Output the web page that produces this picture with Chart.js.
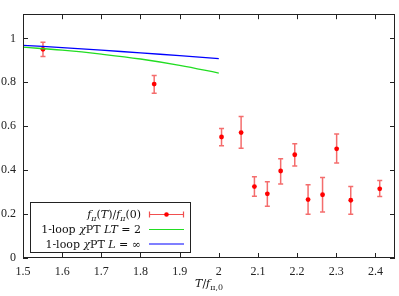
<!DOCTYPE html>
<html><head><meta charset="utf-8">
<script src="https://cdn.jsdelivr.net/npm/chart.js@4/dist/chart.umd.min.js"></script>
<style>html,body{margin:0;padding:0;background:#fff}</style>
</head><body>
<canvas id="c" width="399" height="296"></canvas>
<script>
// Data
const xVals   = [1.551,1.835,2.007,2.057,2.091,2.124,2.158,2.194,2.228,2.265,2.301,2.337,2.411];
const yVals   = [0.950,0.792,0.551,0.571,0.325,0.292,0.396,0.470,0.266,0.288,0.497,0.263,0.315];
const yErrHi  = [0.982,0.831,0.590,0.644,0.370,0.347,0.452,0.520,0.333,0.367,0.565,0.325,0.353];
const yErrLo  = [0.917,0.750,0.511,0.500,0.281,0.236,0.337,0.419,0.199,0.209,0.432,0.199,0.280];
const thX     = [1.5,1.6,1.7,1.8,1.9,2.0];
const greenLT2 = [0.960,0.946,0.928,0.906,0.877,0.842];
const blueInf  = [0.968,0.958,0.946,0.934,0.921,0.908];
const xTicks = [1.5,1.6,1.7,1.8,1.9,2.0,2.1,2.2,2.3,2.4];
const yTicks = [0,0.2,0.4,0.6,0.8,1.0];

const SERIF = '"Liberation Serif","DejaVu Serif",serif';
const LSERIF = '"DejaVu Serif","Liberation Serif",serif';
const FS = 12;
const LFS = 11;

function drawRuns(ctx, runs, x, y, align){
  let w = 0;
  const meas = runs.map(r=>{
    const size = r.sub ? LFS*0.72 : LFS;
    ctx.font = (r.it?'italic ':'') + size + 'px ' + LSERIF;
    const m = ctx.measureText(r.t).width;
    w += m; return {r, size, m};
  });
  let cx = align==='right' ? x - w : (align==='center' ? x - w/2 : x);
  meas.forEach(o=>{
    ctx.font = (o.r.it?'italic ':'') + o.size + 'px ' + LSERIF;
    ctx.fillText(o.r.t, cx, o.r.sub ? y+2.5 : y);
    cx += o.m;
  });
}

const errPlugin = {
  id:'err',
  beforeDatasetsDraw(chart){
    const ctx = chart.ctx, xs = chart.scales.x, ys = chart.scales.y;
    ctx.save();
    ctx.strokeStyle = 'rgba(240,60,60,0.75)';
    ctx.lineWidth = 1.5;
    xVals.forEach((xv,i)=>{
      const px = xs.getPixelForValue(xv);
      const pt = ys.getPixelForValue(yErrHi[i]);
      const pb = ys.getPixelForValue(yErrLo[i]);
      ctx.beginPath();
      ctx.moveTo(px,pt); ctx.lineTo(px,pb);
      ctx.moveTo(px-2.5,pt); ctx.lineTo(px+2.5,pt);
      ctx.moveTo(px-2.5,pb); ctx.lineTo(px+2.5,pb);
      ctx.stroke();
    });
    ctx.restore();
  },
  afterDraw(chart){
    const ctx = chart.ctx, xs = chart.scales.x, ys = chart.scales.y, a = chart.chartArea;
    ctx.save();
    ctx.strokeStyle = '#222'; ctx.lineWidth = 1;
    ctx.strokeRect(Math.round(a.left)+0.5, Math.round(a.top)+0.5, Math.round(a.right-a.left)-1, Math.round(a.bottom-a.top)-1);
    ctx.beginPath();
    xTicks.forEach(v=>{
      const px = Math.round(xs.getPixelForValue(v))+0.5;
      ctx.moveTo(px,a.bottom); ctx.lineTo(px,a.bottom-5);
      ctx.moveTo(px,a.top); ctx.lineTo(px,a.top+5);
    });
    yTicks.forEach(v=>{
      const py = Math.round(ys.getPixelForValue(v))+0.5;
      ctx.moveTo(a.left,py); ctx.lineTo(a.left+5,py);
      ctx.moveTo(a.right,py); ctx.lineTo(a.right-5,py);
    });
    ctx.stroke();

    // Legend
    const bx=30, by=202, bw=160, bh=50;
    ctx.fillStyle='#fff'; ctx.fillRect(bx,by,bw,bh);
    ctx.strokeStyle='#222'; ctx.strokeRect(bx+0.5,by+0.5,bw,bh);
    ctx.fillStyle='#111'; ctx.textBaseline='alphabetic';
    const tx = 141, rows=[214,229,243.5];
    drawRuns(ctx,[{t:'f',it:1},{t:'π',it:1,sub:1},{t:'('},{t:'T',it:1},{t:')/'},{t:'f',it:1},{t:'π',it:1,sub:1},{t:'(0)'}],tx,rows[0]+4,'right');
    drawRuns(ctx,[{t:'1-loop '},{t:'χ',it:1},{t:'PT '},{t:'LT',it:1},{t:' = 2'}],tx,rows[1]+4,'right');
    drawRuns(ctx,[{t:'1-loop '},{t:'χ',it:1},{t:'PT '},{t:'L',it:1},{t:' = ∞'}],tx,rows[2]+4,'right');
    ctx.lineWidth=1.2;
    ctx.strokeStyle='rgba(240,60,60,0.9)';
    ctx.beginPath();
    ctx.moveTo(149,rows[0]+0.5); ctx.lineTo(184,rows[0]+0.5);
    ctx.moveTo(149.5,rows[0]-2.5); ctx.lineTo(149.5,rows[0]+3.5);
    ctx.moveTo(183.5,rows[0]-2.5); ctx.lineTo(183.5,rows[0]+3.5);
    ctx.stroke();
    ctx.fillStyle='#f00'; ctx.beginPath(); ctx.arc(166.5,rows[0]+0.5,2.3,0,Math.PI*2); ctx.fill();
    ctx.strokeStyle='#22dd22'; ctx.beginPath(); ctx.moveTo(149,rows[1]+0.5); ctx.lineTo(184,rows[1]+0.5); ctx.stroke();
    ctx.strokeStyle='#0000ff'; ctx.beginPath(); ctx.moveTo(149,rows[2]+0.5); ctx.lineTo(184,rows[2]+0.5); ctx.stroke();

    // x title
    ctx.fillStyle='#111';
    drawRuns(ctx,[{t:'T',it:1},{t:'/'},{t:'f',it:1},{t:'π,0',sub:1}],(a.left+a.right)/2,287,'center');
    ctx.restore();
  }
};

new Chart(document.getElementById('c'),{
  data:{datasets:[
    {type:'line',label:'LT2',data:thX.map((x,i)=>({x,y:greenLT2[i]})),borderColor:'#22dd22',borderWidth:1.3,pointRadius:0,tension:0.4,fill:false},
    {type:'line',label:'Linf',data:thX.map((x,i)=>({x,y:blueInf[i]})),borderColor:'#0000ff',borderWidth:1.3,pointRadius:0,tension:0.4,fill:false},
    {type:'scatter',label:'fpi',data:xVals.map((x,i)=>({x,y:yVals[i]})),backgroundColor:'#ff0000',borderColor:'#ff0000',pointRadius:2.4,pointBorderWidth:0}
  ]},
  options:{
    responsive:false, animation:false, devicePixelRatio:1,
    layout:{padding:{top:1,right:1,left:0,bottom:0}},
    plugins:{legend:{display:false},tooltip:{enabled:false}},
    scales:{
      x:{type:'linear',min:1.5,max:2.45,
        grid:{display:false,drawTicks:false},border:{display:false},
        afterBuildTicks(s){s.ticks=xTicks.map(v=>({value:v}));},
        afterFit(s){s.height=38;},
        ticks:{padding:7,maxRotation:0,autoSkip:false,color:'#222',font:{family:SERIF,size:FS},callback:v=>String(Math.round(v*10)/10)}},
      y:{type:'linear',min:0,max:1.11,
        grid:{display:false,drawTicks:false},border:{display:false},
        afterBuildTicks(s){s.ticks=yTicks.map(v=>({value:v}));},
        afterFit(s){s.width=23;},
        ticks:{padding:7,color:'#222',font:{family:SERIF,size:FS},callback:v=>String(Math.round(v*10)/10)}}
    }
  },
  plugins:[errPlugin]
});
</script>
</body></html>
